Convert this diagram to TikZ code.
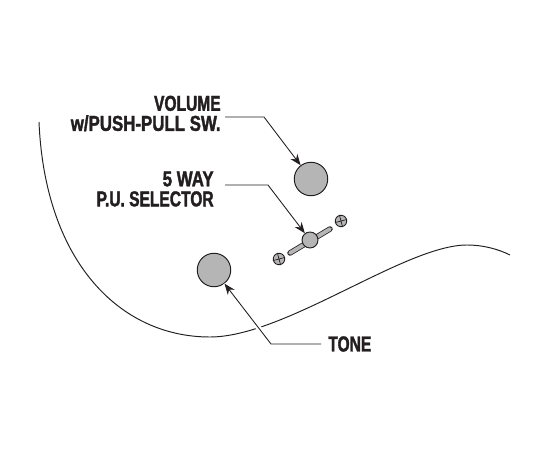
\documentclass[tikz,border=0pt]{standalone}
\usepackage{fontspec}
\setmainfont{Liberation Sans}
\newfontfamily\lblfont[FakeStretch=0.72,FakeBold=1.6]{Liberation Sans}
\newfontfamily\lblwide[FakeStretch=0.78,FakeBold=1.6]{Liberation Sans}
\usetikzlibrary{positioning,arrows.meta,calc}
\definecolor{ink}{HTML}{231F20}
\definecolor{knobgrey}{HTML}{B5B5B5}
\tikzset{
  knob/.style={circle,draw=ink,fill=knobgrey,line width=0.55pt,inner sep=0pt,minimum size=6.7mm},
  tip/.style={circle,draw=ink,fill=knobgrey,line width=0.55pt,inner sep=0pt,minimum size=3.2mm},
  screw/.style={circle,draw=ink,fill=knobgrey,line width=0.5pt,inner sep=0pt,minimum size=2.3mm,rotate=15},
  lever/.style={draw=ink,line width=3.1pt,line cap=round},
  leverfill/.style={draw=knobgrey,line width=2.2pt,line cap=round},
  cross/.style={draw=ink,line width=0.4pt},
  lbl/.style={font=\lblfont\bfseries\fontsize{12.3pt}{11.4pt}\selectfont,text=ink,align=right,inner sep=0pt},
  flow/.style={-{Stealth[length=2.2mm,width=1.7mm]},draw=ink,line width=0.5pt},
  halo/.style={draw=white,line width=3pt}}
\begin{document}
\begin{tikzpicture}
  \useasboundingbox (0,0) rectangle (11,9);
  % body outline
  \draw[ink,line width=0.55pt] (0.78,6.56) .. controls (0.9,3.76) and (2.4,2.26) .. (4.2,2.26)
    .. controls (5.7,2.26) and (8.1,4.1) .. (9.34,4.1) .. controls (9.66,4.1) and (9.96,4.02) .. (10.2,3.9);
  % controls
  \node[knob] (vol) at (6.22,5.42) {};
  \node[knob] (tone) at (4.28,3.6) {};
  \node[screw] (scrl) at (5.58,3.82) {};
  \node[screw] (scrr) at (6.82,4.58) {};
  \draw[lever] (5.8,3.94) -- (6.6,4.42);
  \draw[leverfill] (5.8,3.94) -- (6.6,4.42);
  \node[tip] (sel) at (6.2,4.2) {};
  \draw[cross] (scrl.north) -- (scrl.south) (scrl.east) -- (scrl.west);
  \draw[cross] (scrr.north) -- (scrr.south) (scrr.east) -- (scrr.west);
  % labels
  \node[lbl,anchor=east] (vollbl) at (4.42,6.73) {VOLUME\\\lblwide w/PUSH-PULL SW.};
  \node[lbl,anchor=east] (sellbl) at (4.28,5.22) {{\lblwide 5 WAY}\\P.U. SELECTOR};
  \node[lbl,anchor=west] (tonelbl) at (6.56,2.12) {TONE};
  \coordinate (volstart) at (4.5,6.66);
  \coordinate (volbend) at (5.28,6.66);
  \coordinate (selstart) at (4.5,5.3);
  \coordinate (selbend) at (5.36,5.3);
  \coordinate (tonestart) at (6.42,2.12);
  \coordinate (tonebend) at (5.42,2.12);
  % leaders
  \draw[halo] (tonebend) -- (tone);
  \draw[flow] (volstart) -- (volbend) -- (vol);
  \draw[flow] (selstart) -- (selbend) -- (sel);
  \draw[flow] (tonestart) -- (tonebend) -- (tone);
\end{tikzpicture}
\end{document}
